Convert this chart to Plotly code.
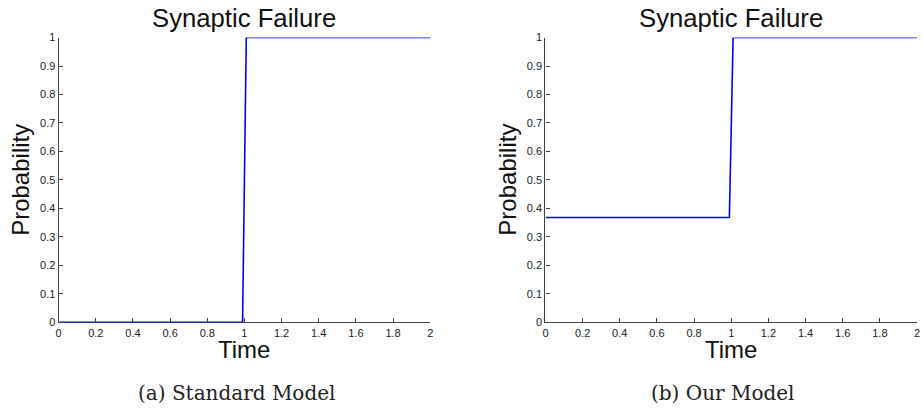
import plotly.graph_objects as go

# Data
time_std = [0, 0.99, 1.01, 2]
prob_std = [0, 0, 1, 1]
time_our = [0, 0.99, 1.01, 2]
prob_our = [0.368, 0.368, 1, 1]

x_tickvals = [0, 0.2, 0.4, 0.6, 0.8, 1, 1.2, 1.4, 1.6, 1.8, 2]
x_ticktext = ["0", "0.2", "0.4", "0.6", "0.8", "1", "1.2", "1.4", "1.6", "1.8", "2"]
y_tickvals = [0, 0.1, 0.2, 0.3, 0.4, 0.5, 0.6, 0.7, 0.8, 0.9, 1]
y_ticktext = ["0", "0.1", "0.2", "0.3", "0.4", "0.5", "0.6", "0.7", "0.8", "0.9", "1"]

titles = ["Synaptic Failure", "Synaptic Failure"]
captions = ["(a) Standard Model", "(b) Our Model"]

W, H = 923, 409


def py(v):
    # vertical pixel position (from top) -> paper fraction, with empirical correction
    v2 = 204 + (v - 204) / 0.968
    return 1 - v2 / H


dom_x = [[56 / W, 430 / W], [546 / W, 920 / W]]
dom_y = [py(322), py(38)]

fig = go.Figure()
fig.add_trace(go.Scatter(x=time_std, y=prob_std, mode="lines",
                         line=dict(color="#0000ff", width=1.6),
                         xaxis="x", yaxis="y", showlegend=False, cliponaxis=False))
fig.add_trace(go.Scatter(x=time_our, y=prob_our, mode="lines",
                         line=dict(color="#0000ff", width=1.6),
                         xaxis="x2", yaxis="y2", showlegend=False, cliponaxis=False))

sans = "Liberation Sans, Arial, sans-serif"
axis_common = dict(showgrid=False, zeroline=False, showline=True, linecolor="#444",
                   linewidth=1.2, ticks="inside", ticklen=4, tickcolor="#444",
                   tickfont=dict(family=sans, size=11, color="#222"), mirror=False,
                   layer="below traces")

layout = dict(
    width=W, height=H, autosize=False, margin=dict(l=0, r=0, t=0, b=0, pad=0),
    paper_bgcolor="white", plot_bgcolor="white", showlegend=False,
    xaxis=dict(domain=dom_x[0], range=[0, 2], tickvals=x_tickvals, ticktext=x_ticktext,
               anchor="y", **axis_common),
    yaxis=dict(domain=dom_y, range=[0, 1], tickvals=y_tickvals, ticktext=y_ticktext,
               anchor="x", **axis_common),
    xaxis2=dict(domain=dom_x[1], range=[0, 2], tickvals=x_tickvals, ticktext=x_ticktext,
                anchor="y2", **axis_common),
    yaxis2=dict(domain=dom_y, range=[0, 1], tickvals=y_tickvals, ticktext=y_ticktext,
                anchor="x2", **axis_common),
)
fig.update_layout(**layout)

annotations = []
for i in range(2):
    cx = (dom_x[i][0] + dom_x[i][1]) / 2
    annotations.append(dict(text=titles[i], x=cx, y=py(18), xref="paper", yref="paper",
                            showarrow=False, xanchor="center", yanchor="middle",
                            font=dict(family=sans, size=25.7, color="#111")))
    annotations.append(dict(text="Time", x=cx, y=py(349), xref="paper", yref="paper",
                            showarrow=False, xanchor="center", yanchor="middle",
                            font=dict(family=sans, size=24, color="#111")))
    annotations.append(dict(text="Probability", x=(dom_x[i][0] * W - 38) / W,
                            y=(dom_y[0] + dom_y[1]) / 2, xref="paper", yref="paper",
                            showarrow=False, xanchor="center", yanchor="middle", textangle=-90,
                            font=dict(family=sans, size=24, color="#111")))
cap_x = [235 / W, 725 / W]
for i in range(2):
    annotations.append(dict(text=captions[i], x=cap_x[i], y=py(392), xref="paper", yref="paper",
                            showarrow=False, xanchor="center", yanchor="middle",
                            font=dict(family="DejaVu Serif, Liberation Serif, serif", size=20, color="#222")))
fig.update_layout(annotations=annotations)

fig.write_html("out.html", config={"displayModeBar": False, "responsive": False},
               post_script="document.body.style.margin='0';document.body.style.overflow='hidden';")
